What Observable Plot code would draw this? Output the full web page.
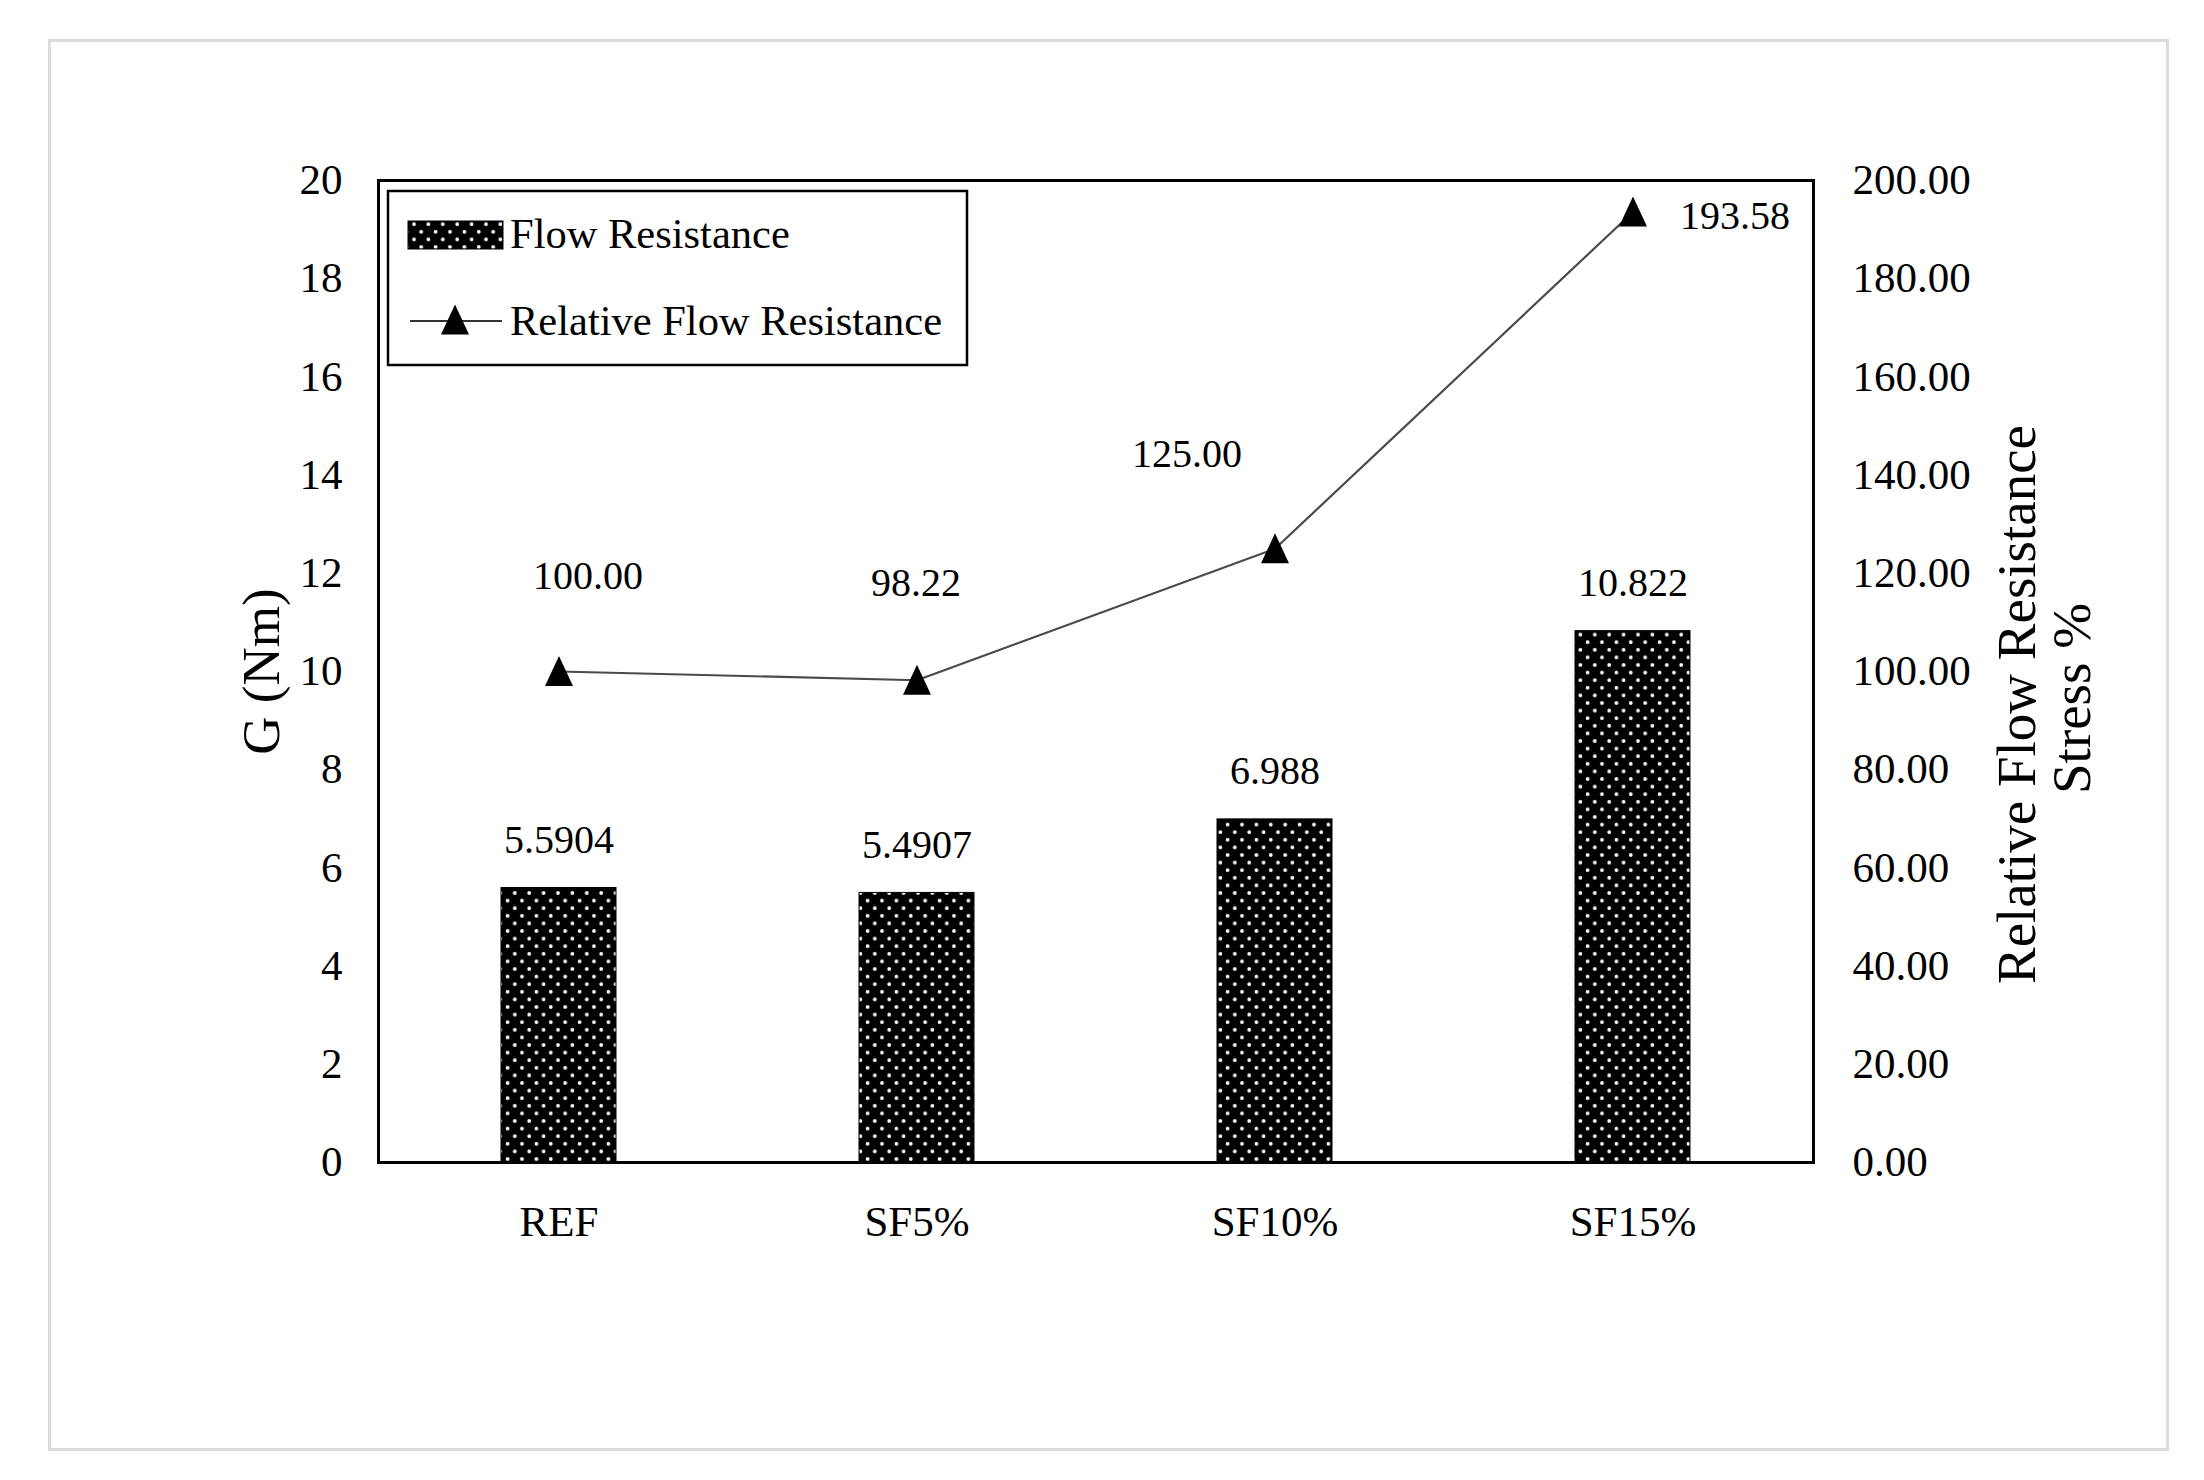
<!DOCTYPE html>
<html>
<head>
<meta charset="utf-8">
<script src="https://cdn.jsdelivr.net/npm/d3@7"></script>
<script src="https://cdn.jsdelivr.net/npm/@observablehq/plot@0.6"></script>
<style>
  html, body { margin: 0; padding: 0; background: #fff; }
  #wrap { position: relative; width: 2204px; height: 1480px; }
  #border { position: absolute; left: 48px; top: 39px; width: 2121px; height: 1412px;
            border: 3px solid #dcdcdc; box-sizing: border-box; pointer-events: none; }
  svg { font-family: "Liberation Serif", "Times New Roman", serif; }
</style>
</head>
<body>
<div id="wrap"><div id="border"></div><div id="chart"></div></div>
<script>
// ---- data ----
const categories = ["REF", "SF5%", "SF10%", "SF15%"];
const flowResistance = [5.5904, 5.4907, 6.988, 10.822];
const flowLabels = ["5.5904", "5.4907", "6.988", "10.822"];
const relativeFlow = [100.00, 98.22, 125.00, 193.58];
const relativeLabels = ["100.00", "98.22", "125.00", "193.58"];
const leftTicks = [0, 2, 4, 6, 8, 10, 12, 14, 16, 18, 20];
const rightTicks = [0, 20, 40, 60, 80, 100, 120, 140, 160, 180, 200];
const seriesNames = ["Flow Resistance", "Relative Flow Resistance"];
const leftTitle = "G (Nm)";
const rightTitle = ["Relative Flow Resistance", "Stress %"];

// right axis (0–200) is drawn against left scale (0–20)
const ratio = 10;

const rows = categories.map((c, i) => ({
  cat: c, g: flowResistance[i], gLabel: flowLabels[i],
  rel: relativeFlow[i], relLabel: relativeLabels[i]
}));

// taller triangle symbol
const tallTriangle = {
  draw(ctx, size) {
    const r = Math.sqrt(size / Math.PI);
    ctx.moveTo(0, -1.4 * r);
    ctx.lineTo(1.27 * r, 1.32 * r);
    ctx.lineTo(-1.27 * r, 1.32 * r);
    ctx.closePath();
  }
};

const relOffsets = [[29, -95], [-1, -97], [-88, -95], [102, 4]];

const chart = Plot.plot({
  width: 2204,
  height: 1480,
  marginLeft: 378,
  marginRight: 391,
  marginTop: 180,
  marginBottom: 318,
  style: { fontFamily: "'Liberation Serif', 'Times New Roman', serif", color: "black", background: "transparent" },
  x: { domain: categories, paddingInner: 0.68, paddingOuter: 0.34, label: null },
  y: { domain: [0, 20], label: null },
  marks: [
    Plot.barY(rows, { x: "cat", y: "g", fill: "url(#dotPattern)", stroke: "black", strokeWidth: 1 }),
    Plot.frame({ stroke: "black", strokeWidth: 3 }),
    Plot.axisY(leftTicks, { anchor: "left", tickSize: 0, tickPadding: 36, fontSize: 43, label: null }),
    Plot.axisY(rightTicks.map(v => v / ratio), {
      anchor: "right", tickSize: 0, tickPadding: 39, fontSize: 43, label: null,
      tickFormat: d => (d * ratio).toFixed(2)
    }),
    Plot.axisX({ anchor: "bottom", tickSize: 0, tickPadding: 43, fontSize: 43, label: null }),
    Plot.line(rows, { x: "cat", y: d => d.rel / ratio, stroke: "#4a4a4a", strokeWidth: 2.2 }),
    Plot.dot(rows, { x: "cat", y: d => d.rel / ratio, symbol: tallTriangle, r: 11, fill: "black", stroke: "none" }),
    Plot.text(rows, { x: "cat", y: "g", text: "gLabel", dy: -48, fontSize: 40, fill: "black" }),
    ...rows.map((r, i) => Plot.text([r], {
      x: "cat", y: d => d.rel / ratio, text: "relLabel",
      dx: relOffsets[i][0], dy: relOffsets[i][1], fontSize: 40, fill: "black"
    })),
    Plot.text([leftTitle], { frameAnchor: "left", textAnchor: "middle", dx: -116, rotate: -90, fontSize: 53, fill: "black" }),
    Plot.text([rightTitle[0]], { frameAnchor: "right", textAnchor: "middle", dx: 204, dy: 33, rotate: -90, fontSize: 55, fill: "black" }),
    Plot.text([rightTitle[1]], { frameAnchor: "right", textAnchor: "middle", dx: 259, dy: 27, rotate: -90, fontSize: 55, fill: "black" })
  ]
});

document.getElementById("chart").appendChild(chart);

// pattern definition
const svg = d3.select(chart);
const defs = svg.insert("defs", ":first-child");
const pat = defs.append("pattern").attr("id", "dotPattern")
  .attr("patternUnits", "userSpaceOnUse").attr("width", 14.4).attr("height", 15.2);
pat.append("rect").attr("width", 14.4).attr("height", 15.2).attr("fill", "black");
pat.append("circle").attr("cx", 3.6).attr("cy", 3.8).attr("r", 1.9).attr("fill", "white");
pat.append("circle").attr("cx", 10.8).attr("cy", 11.4).attr("r", 1.9).attr("fill", "white");

// legend
const lg = svg.append("g").attr("class", "legend").attr("text-anchor", "start");
lg.append("rect").attr("x", 388).attr("y", 191).attr("width", 579).attr("height", 174)
  .attr("fill", "white").attr("stroke", "black").attr("stroke-width", 2.5);
lg.append("rect").attr("x", 408).attr("y", 221).attr("width", 95).attr("height", 28)
  .attr("fill", "url(#dotPattern)").attr("stroke", "black").attr("stroke-width", 1);
lg.append("text").attr("x", 510).attr("y", 234).attr("dy", "0.33em").attr("text-anchor", "start")
  .attr("font-size", 42.5).attr("fill", "black").text(seriesNames[0]);
lg.append("line").attr("x1", 410).attr("x2", 502).attr("y1", 321).attr("y2", 321)
  .attr("stroke", "#333").attr("stroke-width", 2);
lg.append("path").attr("transform", "translate(455,320)")
  .attr("d", d3.symbol(tallTriangle, Math.PI * 11 * 11)()).attr("fill", "black");
lg.append("text").attr("x", 510).attr("y", 321).attr("dy", "0.33em").attr("text-anchor", "start")
  .attr("font-size", 42.5).attr("fill", "black").text(seriesNames[1]);
</script>
</body>
</html>
